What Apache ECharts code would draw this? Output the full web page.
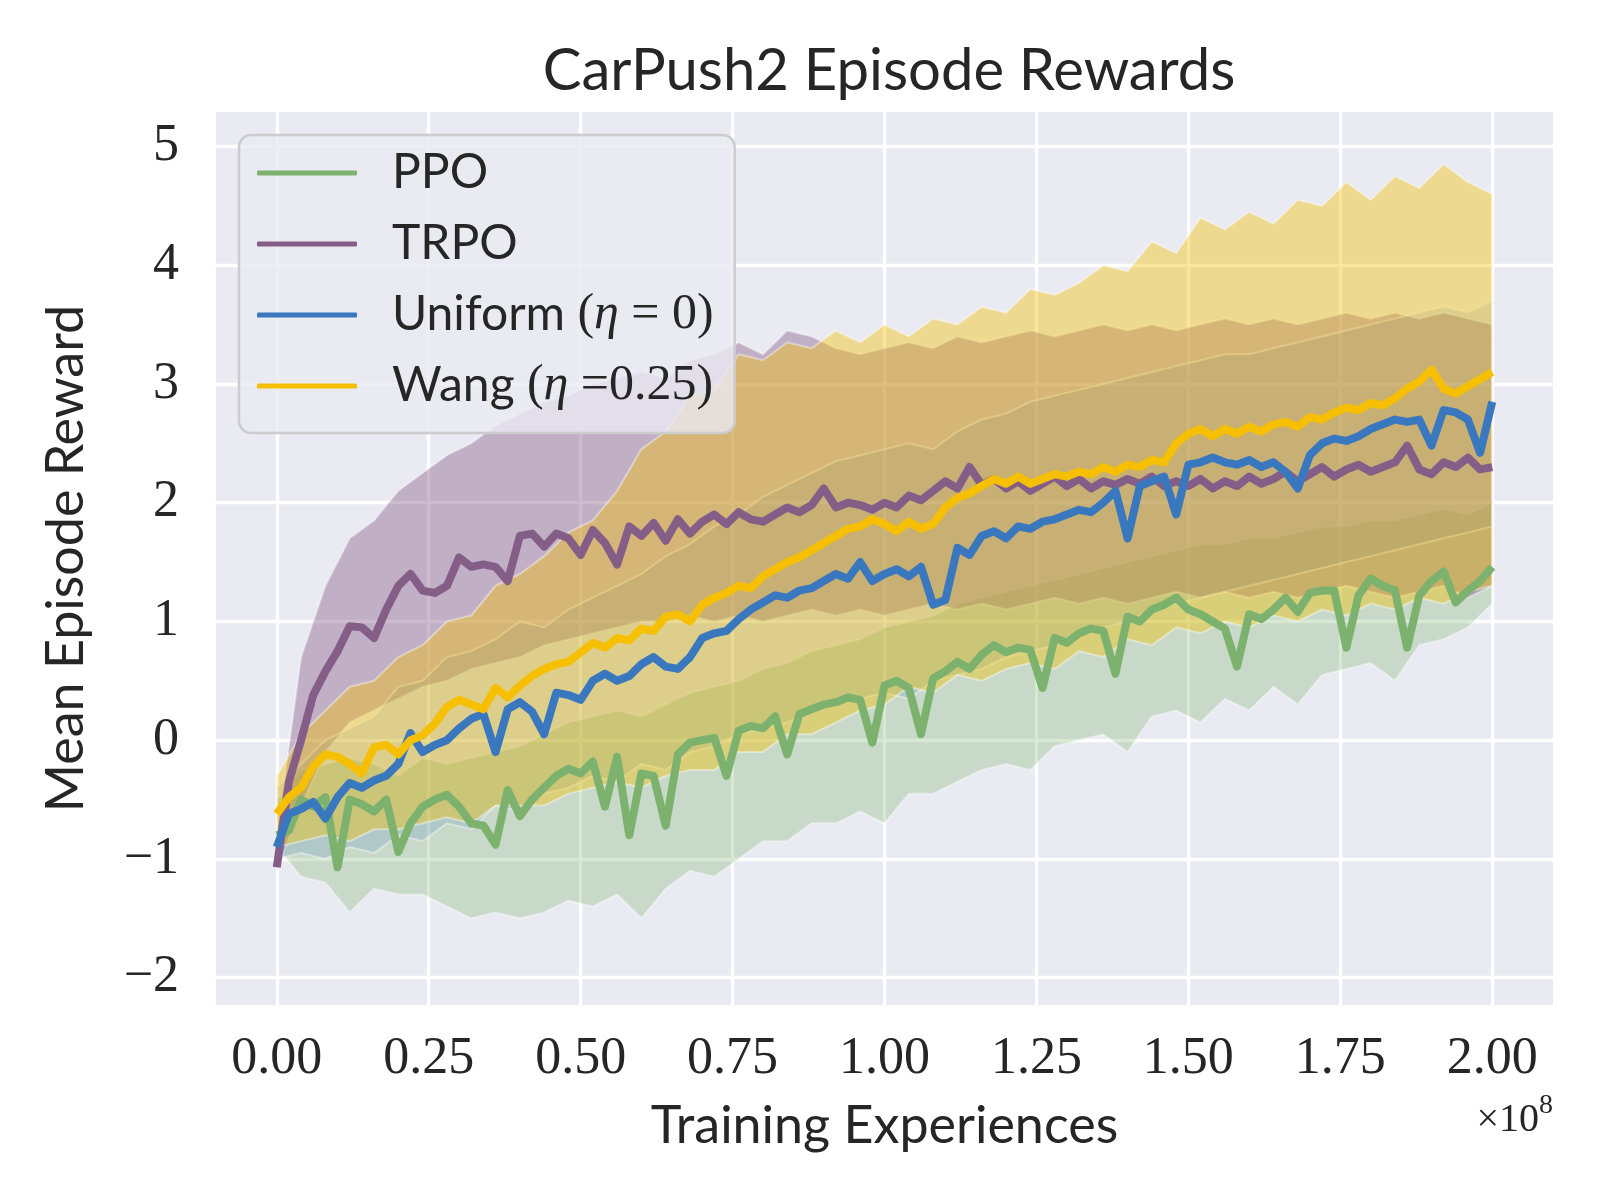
<!DOCTYPE html>
<html>
<head>
<meta charset="utf-8">
<script src="https://cdn.jsdelivr.net/npm/echarts@6/dist/echarts.min.js"></script>
<style>html,body{margin:0;padding:0;background:#fff;}</style>
</head>
<body>
<div id="main" style="width:1600px;height:1200px;"></div>
<script>
// training experiences, in millions
var steps = [0,2,4,6,8,10,12,14,16,18,20,22,24,26,28,30,32,34,36,38,40,42,44,46,48,50,52,54,56,58,60,62,64,66,68,70,72,74,76,78,80,82,84,86,88,90,92,94,96,98,100,102,104,106,108,110,112,114,116,118,120,122,124,126,128,130,132,134,136,138,140,142,144,146,148,150,152,154,156,158,160,162,164,166,168,170,172,174,176,178,180,182,184,186,188,190,192,194,196,198,200];

var ppoMean = [-0.80,-0.76,-0.50,-0.56,-0.48,-1.07,-0.50,-0.54,-0.60,-0.50,
  -0.94,-0.70,-0.56,-0.50,-0.46,-0.56,-0.70,-0.72,-0.88,-0.42,
  -0.64,-0.50,-0.40,-0.30,-0.24,-0.28,-0.18,-0.56,-0.14,-0.80,
  -0.28,-0.30,-0.72,-0.12,-0.02,0.00,0.02,-0.30,0.08,0.12,
  0.10,0.20,-0.12,0.22,0.26,0.30,0.32,0.36,0.34,-0.02,
  0.46,0.50,0.44,0.05,0.52,0.58,0.66,0.60,0.72,0.80,
  0.74,0.78,0.76,0.44,0.86,0.82,0.90,0.94,0.92,0.56,
  1.04,1.00,1.10,1.14,1.20,1.10,1.06,1.00,0.94,0.62,
  1.06,1.02,1.10,1.20,1.08,1.24,1.26,1.26,0.78,1.22,
  1.36,1.30,1.26,0.78,1.22,1.34,1.42,1.16,1.26,1.34,
  1.46];

var trpoMean = [-1.07,-0.35,0.00,0.38,0.58,0.75,0.96,0.95,0.86,1.10,
  1.30,1.40,1.26,1.24,1.30,1.54,1.46,1.48,1.46,1.34,
  1.72,1.74,1.63,1.74,1.70,1.56,1.77,1.66,1.48,1.80,
  1.72,1.83,1.68,1.86,1.74,1.84,1.90,1.82,1.92,1.86,
  1.84,1.90,1.96,1.92,1.98,2.12,1.96,2.00,1.98,1.94,
  2.00,1.96,2.06,2.02,2.10,2.18,2.12,2.30,2.15,2.20,
  2.12,2.18,2.10,2.16,2.22,2.14,2.20,2.12,2.18,2.15,
  2.20,2.16,2.22,2.14,2.18,2.14,2.20,2.12,2.18,2.14,
  2.22,2.16,2.20,2.26,2.18,2.24,2.30,2.22,2.28,2.32,
  2.26,2.30,2.34,2.48,2.28,2.24,2.34,2.30,2.38,2.28,
  2.30];

var uniformMean = [-0.90,-0.62,-0.58,-0.52,-0.66,-0.48,-0.36,-0.40,-0.34,-0.30,
  -0.20,0.06,-0.10,-0.04,0.00,0.10,0.18,0.22,-0.10,0.26,
  0.32,0.24,0.05,0.40,0.38,0.34,0.50,0.56,0.50,0.54,
  0.64,0.70,0.62,0.60,0.70,0.86,0.90,0.92,1.02,1.10,
  1.16,1.22,1.20,1.26,1.28,1.34,1.40,1.36,1.50,1.34,
  1.40,1.44,1.38,1.46,1.14,1.18,1.62,1.56,1.72,1.76,
  1.70,1.80,1.78,1.84,1.86,1.90,1.94,1.92,2.00,2.10,
  1.70,2.14,2.18,2.22,1.90,2.32,2.34,2.38,2.34,2.32,
  2.36,2.30,2.34,2.26,2.12,2.40,2.50,2.54,2.52,2.56,
  2.62,2.66,2.70,2.68,2.70,2.48,2.78,2.76,2.70,2.42,
  2.85];

var wangMean = [-0.62,-0.48,-0.40,-0.22,-0.12,-0.14,-0.20,-0.28,-0.06,-0.04,
  -0.12,0.00,0.04,0.14,0.28,0.34,0.30,0.26,0.44,0.36,
  0.46,0.54,0.60,0.64,0.66,0.74,0.82,0.78,0.86,0.84,
  0.94,0.92,1.04,1.06,1.00,1.14,1.20,1.24,1.30,1.28,
  1.38,1.44,1.50,1.54,1.60,1.66,1.72,1.78,1.80,1.86,
  1.82,1.76,1.84,1.78,1.82,1.96,2.04,2.08,2.14,2.20,
  2.16,2.22,2.16,2.20,2.24,2.22,2.26,2.24,2.30,2.26,
  2.32,2.30,2.36,2.34,2.50,2.58,2.62,2.56,2.62,2.58,
  2.64,2.60,2.66,2.68,2.64,2.72,2.70,2.76,2.80,2.78,
  2.84,2.82,2.88,2.96,3.02,3.12,2.96,2.92,2.98,3.04,
  3.10];

// spread bands, sampled more coarsely (millions)
var bandSteps = [0,4,8,12,16,20,24,28,32,36,40,44,48,52,56,60,64,68,72,76,80,84,88,92,96,100,104,108,112,116,120,124,128,132,136,140,144,148,152,156,160,164,168,172,176,180,184,188,192,196,200];

var ppoLow = [-0.90,-1.15,-1.20,-1.45,-1.25,-1.30,-1.30,-1.40,-1.50,-1.45,
  -1.50,-1.45,-1.35,-1.40,-1.30,-1.50,-1.25,-1.10,-1.15,-1.00,
  -0.85,-0.85,-0.70,-0.70,-0.60,-0.70,-0.45,-0.45,-0.35,-0.25,
  -0.20,-0.25,-0.05,0.00,0.05,-0.10,0.20,0.25,0.15,0.35,
  0.25,0.45,0.30,0.55,0.60,0.65,0.50,0.80,0.85,0.95,1.15];
var ppoHigh = [-0.50,-0.25,-0.20,-0.15,-0.20,-0.30,-0.15,-0.20,-0.15,-0.10,
  -0.05,0.05,0.15,0.20,0.25,0.20,0.30,0.40,0.45,0.50,
  0.60,0.65,0.75,0.80,0.85,0.95,1.00,1.05,1.15,1.20,
  1.25,1.30,1.35,1.40,1.45,1.50,1.55,1.60,1.65,1.65,
  1.70,1.70,1.75,1.80,1.80,1.85,1.85,1.90,1.95,1.90,2.00];

var trpoLow = [-1.10,-0.55,-0.10,0.15,0.25,0.35,0.45,0.50,0.60,0.65,
  0.70,0.80,0.85,0.90,0.95,1.00,1.00,1.05,1.00,1.05,
  1.00,1.05,1.10,1.05,1.10,1.05,1.10,1.15,1.10,1.15,
  1.10,1.15,1.20,1.15,1.20,1.15,1.20,1.25,1.20,1.25,
  1.20,1.25,1.20,1.25,1.30,1.25,1.20,1.25,1.30,1.20,1.30];
var trpoHigh = [-0.80,0.70,1.30,1.70,1.85,2.10,2.25,2.40,2.50,2.65,
  2.75,2.85,2.90,3.00,3.05,3.10,3.05,3.20,3.25,3.35,
  3.25,3.45,3.40,3.30,3.25,3.30,3.35,3.30,3.40,3.35,
  3.40,3.45,3.40,3.45,3.50,3.45,3.50,3.45,3.50,3.55,
  3.50,3.55,3.50,3.55,3.60,3.55,3.60,3.55,3.60,3.55,3.50];

var uniformLow = [-1.00,-0.95,-1.00,-0.90,-0.95,-0.80,-0.85,-0.70,-0.75,-0.55,
  -0.60,-0.45,-0.40,-0.30,-0.35,-0.20,-0.25,-0.10,-0.05,0.05,
  0.10,0.15,0.25,0.30,0.35,0.40,0.35,0.50,0.55,0.60,
  0.70,0.75,0.80,0.90,0.95,1.00,1.10,1.15,1.20,1.25,
  1.30,1.35,1.40,1.45,1.50,1.55,1.60,1.65,1.70,1.75,1.80];
var uniformHigh = [-0.40,-0.20,0.00,0.10,0.20,0.45,0.50,0.70,0.75,0.85,
  1.00,0.95,1.10,1.20,1.30,1.40,1.55,1.65,1.80,1.90,
  2.05,2.15,2.25,2.35,2.40,2.45,2.50,2.45,2.60,2.70,
  2.75,2.85,2.90,2.95,3.00,3.05,3.10,3.15,3.20,3.25,
  3.25,3.30,3.35,3.40,3.45,3.50,3.55,3.60,3.65,3.60,3.70];

var wangLow = [-0.90,-0.85,-0.80,-0.85,-0.75,-0.75,-0.70,-0.65,-0.70,-0.55,
  -0.55,-0.55,-0.45,-0.40,-0.35,-0.40,-0.30,-0.25,-0.25,-0.10,
  -0.10,0.05,0.05,0.15,0.25,0.30,0.45,0.40,0.55,0.50,
  0.60,0.65,0.60,0.75,0.70,0.85,0.80,0.95,0.90,1.00,
  0.95,1.05,1.00,1.10,1.05,1.15,1.10,1.20,1.15,1.25,1.30];
var wangHigh = [-0.30,0.05,0.25,0.45,0.50,0.70,0.80,1.00,1.05,1.30,
  1.40,1.55,1.75,1.85,2.10,2.45,2.60,2.90,2.95,3.25,
  3.20,3.35,3.30,3.45,3.35,3.50,3.40,3.55,3.50,3.65,
  3.60,3.80,3.75,3.85,4.00,3.95,4.20,4.10,4.40,4.30,
  4.45,4.35,4.55,4.50,4.70,4.55,4.75,4.65,4.85,4.70,4.60];

var xTicks = [0, 25e6, 50e6, 75e6, 100e6, 125e6, 150e6, 175e6, 200e6];
var yTicks = [-2, -1, 0, 1, 2, 3, 4, 5];

var names = ['PPO', 'TRPO', 'Uniform (η = 0)', 'Wang (η =0.25)'];
var colors = ['#7cb26e', '#855e88', '#3977be', '#f6c000'];
var bandFills = ['rgba(124,178,110,0.30)', 'rgba(133,94,136,0.42)', 'rgba(57,119,190,0.16)', 'rgba(246,192,0,0.40)'];

var textColor = '#262626';
var sans = 'Lato';
var serif = 'Liberation Serif';

function bandSeries(name, low, high, fill) {
    return {
        type: 'custom',
        name: name,
        silent: true,
        clip: true,
        z: 1,
        data: [[bandSteps[0] * 1e6, low[0]]],
        renderItem: function (params, api) {
            var pts = [];
            for (var i = 0; i < bandSteps.length; i++) {
                pts.push(api.coord([bandSteps[i] * 1e6, high[i]]));
            }
            for (var j = bandSteps.length - 1; j >= 0; j--) {
                pts.push(api.coord([bandSteps[j] * 1e6, low[j]]));
            }
            return {
                type: 'polygon',
                shape: { points: pts },
                style: { fill: fill, stroke: 'rgba(255,255,255,0.4)', lineWidth: 2 }
            };
        }
    };
}

function lineSeries(name, vals, color) {
    return {
        type: 'line',
        name: name,
        data: steps.map(function (s, i) { return [s * 1e6, vals[i]]; }),
        showSymbol: false,
        symbol: 'none',
        z: 3,
        lineStyle: { width: 8, color: color, join: 'round' },
        itemStyle: { color: color }
    };
}

var myChart = echarts.init(document.getElementById('main'));

var option = {
    animation: false,
    backgroundColor: '#ffffff',
    title: {
        text: 'CarPush2 Episode Rewards',
        left: 884,
        top: 37,
        textAlign: 'center',
        textStyle: { fontFamily: sans, fontSize: 58, fontWeight: 'normal', color: textColor }
    },
    grid: {
        left: 216, right: 47, top: 112, bottom: 195,
        show: true, backgroundColor: '#eaeaf2', borderWidth: 0
    },
    legend: {
        left: 239, top: 135,
        orient: 'vertical',
        data: names,
        icon: 'roundRect',
        itemWidth: 100,
        itemHeight: 5,
        itemGap: 21,
        padding: [13, 21, 22, 18],
        backgroundColor: 'rgba(234,234,242,0.8)',
        borderColor: '#cccccc',
        borderWidth: 2.5,
        borderRadius: 12,
        textStyle: {
            fontFamily: sans, fontSize: 48, color: textColor, lineHeight: 50,
            rich: {
                s: { fontFamily: sans, fontSize: 48, color: textColor, lineHeight: 50, padding: [0, 0, 0, 30] },
                m: { fontFamily: serif, fontSize: 50, color: textColor, lineHeight: 50 },
                i: { fontFamily: serif, fontSize: 50, fontStyle: 'italic', color: textColor, lineHeight: 50 }
            }
        },
        formatter: function (name) {
            if (name === names[2]) return '{s|Uniform }{m|(}{i|η}{m| = 0)}';
            if (name === names[3]) return '{s|Wang }{m|(}{i|η}{m| =0.25)}';
            return '{s|' + name + '}';
        }
    },
    xAxis: {
        type: 'value',
        min: -1e7,
        max: 2.1e8,
        name: 'Training Experiences',
        nameLocation: 'middle',
        nameGap: 95,
        nameTextStyle: { fontFamily: sans, fontSize: 52, color: textColor },
        axisLine: { show: false },
        axisTick: { show: false, customValues: xTicks },
        axisLabel: {
            customValues: xTicks,
            margin: 28,
            fontFamily: serif, fontSize: 52, color: textColor,
            formatter: function (v) { return (v / 1e8).toFixed(2); }
        },
        splitLine: { show: true, lineStyle: { color: '#ffffff', width: 3.3 } }
    },
    yAxis: {
        type: 'value',
        min: -2.23,
        max: 5.29,
        name: 'Mean Episode Reward',
        nameLocation: 'middle',
        nameGap: 124,
        nameTextStyle: { fontFamily: sans, fontSize: 52, color: textColor },
        axisLine: { show: false },
        axisTick: { show: false, customValues: yTicks },
        axisLabel: {
            customValues: yTicks,
            margin: 37,
            fontFamily: serif, fontSize: 52, color: textColor,
            formatter: function (v) { return v < 0 ? '\u2212' + (-v) : String(v); }
        },
        splitLine: { show: true, lineStyle: { color: '#ffffff', width: 3.3 } }
    },
    graphic: [{
        type: 'text',
        right: 47,
        top: 1092,
        style: {
            text: '{a|×10}{b|8}',
            rich: {
                a: { fontFamily: serif, fontSize: 40, fill: textColor, lineHeight: 48, verticalAlign: 'bottom' },
                b: { fontFamily: serif, fontSize: 28, fill: textColor, lineHeight: 48, verticalAlign: 'top' }
            }
        }
    }],
    series: [
        bandSeries('PPO band', ppoLow, ppoHigh, bandFills[0]),
        bandSeries('TRPO band', trpoLow, trpoHigh, bandFills[1]),
        bandSeries('Uniform band', uniformLow, uniformHigh, bandFills[2]),
        bandSeries('Wang band', wangLow, wangHigh, bandFills[3]),
        lineSeries(names[0], ppoMean, colors[0]),
        lineSeries(names[1], trpoMean, colors[1]),
        lineSeries(names[2], uniformMean, colors[2]),
        lineSeries(names[3], wangMean, colors[3])
    ]
};

myChart.setOption(option);
</script>
</body>
</html>
